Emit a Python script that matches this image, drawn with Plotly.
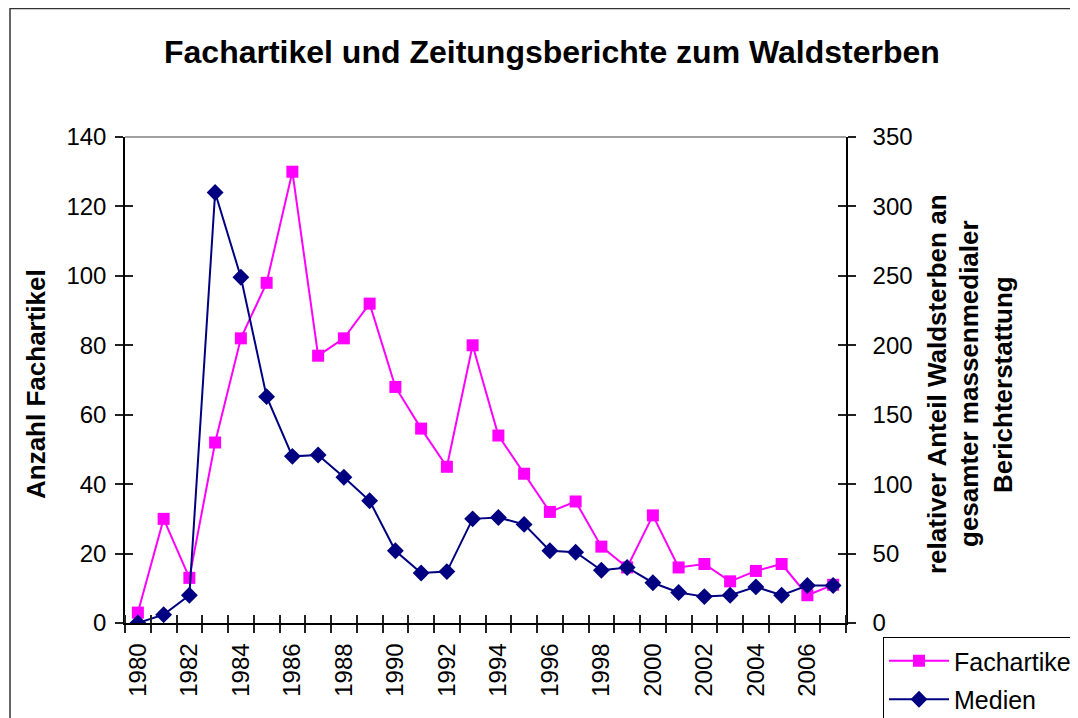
import plotly.graph_objects as go

years = list(range(1980, 2008))
fachartikel = [3, 30, 13, 52, 82, 98, 130, 77, 82, 92, 68, 56, 45, 80,
               54, 43, 32, 35, 22, 16, 31, 16, 17, 12, 15, 17, 8, 11]
medien = [0, 6, 20, 310, 249, 163, 120, 121, 105, 88, 52, 36, 37, 75,
          76, 71, 52, 51, 38, 40, 29, 22, 19, 20, 26, 20, 27, 27]
x_tick_years = list(range(1980, 2008, 2))
left_ticks = list(range(0, 141, 20))
right_ticks = list(range(0, 351, 50))

title_text = "Fachartikel und Zeitungsberichte zum Waldsterben"
left_title = "Anzahl Fachartikel"
right_title_lines = ["relativer Anteil Waldsterben an",
                     "gesamter massenmedialer",
                     "Berichterstattung"]

FONT = "Liberation Sans, Arial, sans-serif"
OFF = 8  # page body margin
W, H = 1078 - OFF, 718 - OFF
# plot area in page pixels
L, R, T, B = 125, 846, 137, 623
pw, ph = R - L, B - T


def px_x(px):
    return (px - L) / pw


def px_y(py):
    return (B - py) / ph


fig = go.Figure()
fig.add_trace(go.Scatter(
    x=years, y=fachartikel, name="Fachartikel", mode="lines+markers",
    line=dict(color="#FF00FF", width=2),
    marker=dict(symbol="square", size=12, color="#FF00FF"),
    legendgroup="a", yaxis="y"))
fig.add_trace(go.Scatter(
    x=years, y=medien, name="Medien", mode="lines+markers",
    line=dict(color="#000080", width=2),
    marker=dict(symbol="diamond", size=13, color="#000080"),
    legendgroup="b", yaxis="y2"))

annotations = [
    dict(text=f"<b>{title_text}</b>", x=px_x(552), y=px_y(52), xref="paper", yref="paper",
         showarrow=False, font=dict(family=FONT, size=32, color="black"),
         xanchor="center", yanchor="middle"),
    dict(text=f"<b>{left_title}</b>", x=px_x(36), y=px_y(384), xref="paper", yref="paper",
         showarrow=False, textangle=-90, font=dict(family=FONT, size=26, color="black"),
         xanchor="center", yanchor="middle"),
]
for xpos, line in zip([937, 969, 1003], right_title_lines):
    annotations.append(dict(text=f"<b>{line}</b>", x=px_x(xpos), y=px_y(384),
                            xref="paper", yref="paper", showarrow=False, textangle=-90,
                            font=dict(family=FONT, size=26, color="black"),
                            xanchor="center", yanchor="middle"))

shapes = [
    # outer chart border
    dict(type="rect", xref="paper", yref="paper", x0=px_x(10), y0=px_y(760),
         x1=px_x(1120), y1=px_y(8.5), line=dict(color="#333333", width=1.5)),
    # plot-area top border
    dict(type="line", xref="paper", yref="paper", x0=0, x1=1, y0=1, y1=1,
         line=dict(color="#808080", width=1.5)),
]

tick_common = dict(tickcolor="#222222", tickwidth=1.5, showgrid=False, zeroline=False)

fig.update_layout(
    width=W, height=H,
    margin=dict(l=L - OFF, r=W - (R - OFF), t=T - OFF, b=H - (B - OFF), pad=0,
                autoexpand=False),
    paper_bgcolor="white", plot_bgcolor="white",
    font=dict(family=FONT, size=24, color="black"),
    showlegend=True,
    legend=dict(x=px_x(883), y=px_y(637), xanchor="left", yanchor="top",
                bordercolor="black", borderwidth=1, bgcolor="white",
                font=dict(family=FONT, size=25, color="black"),
                tracegroupgap=3, itemwidth=60),
    xaxis=dict(range=[1979.5, 2007.5], tickmode="array", tickvals=x_tick_years,
               ticktext=[str(y) for y in x_tick_years], tickangle=-90,
               ticks="", showgrid=False, zeroline=False, showline=True,
               linecolor="black", linewidth=1.5, ticklabelstandoff=9,
               minor=dict(ticks="outside", tick0=1979.5, dtick=1, ticklen=8,
                          tickcolor="#222222", tickwidth=1.5, showgrid=False),
               tickfont=dict(family=FONT, size=24, color="black")),
    xaxis2=dict(range=[1979.5, 2007.5], overlaying="x", side="bottom",
                showticklabels=False, showline=False, ticks="",
                minor=dict(ticks="inside", tick0=1979.5, dtick=1, ticklen=8,
                           tickcolor="#222222", tickwidth=1.5, showgrid=False),
                tickmode="array", tickvals=[], showgrid=False, zeroline=False),
    yaxis=dict(range=[0, 140], tickmode="array", tickvals=left_ticks,
               ticks="outside", ticklen=8, showline=True, linecolor="black",
               linewidth=1.5, ticklabelstandoff=4,
               tickfont=dict(family=FONT, size=24, color="black"), **tick_common),
    yaxis2=dict(range=[0, 350], tickmode="array", tickvals=right_ticks,
                overlaying="y", side="right", ticks="outside", ticklen=8,
                showline=True, linecolor="black", linewidth=1.5, ticklabelstandoff=12,
                tickfont=dict(family=FONT, size=24, color="black"), **tick_common),
    yaxis3=dict(range=[0, 140], tickmode="array", tickvals=left_ticks,
                overlaying="y", side="left", ticks="inside", ticklen=8,
                showticklabels=False, showline=False, **tick_common),
    yaxis4=dict(range=[0, 350], tickmode="array", tickvals=right_ticks,
                overlaying="y", side="right", ticks="inside", ticklen=8,
                showticklabels=False, showline=False, **tick_common),
    annotations=annotations,
    shapes=shapes,
)

# invisible traces to activate the tick-only overlay axes
fig.add_trace(go.Scatter(x=[None], y=[None], xaxis="x2", yaxis="y3",
                         showlegend=False, hoverinfo="skip"))
fig.add_trace(go.Scatter(x=[None], y=[None], xaxis="x2", yaxis="y4",
                         showlegend=False, hoverinfo="skip"))

fig.write_html("out.html")
